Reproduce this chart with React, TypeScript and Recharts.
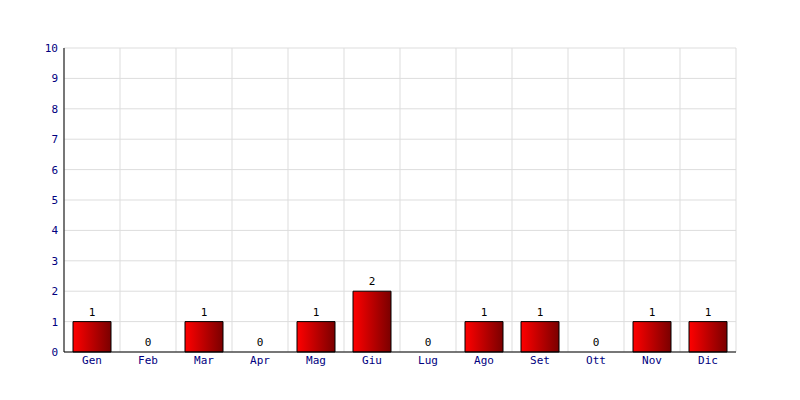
import React from 'react';
import { ComposedChart, Bar, Line, XAxis, YAxis, CartesianGrid } from 'recharts';

const MONTHS = ['Gen', 'Feb', 'Mar', 'Apr', 'Mag', 'Giu', 'Lug', 'Ago', 'Set', 'Ott', 'Nov', 'Dic'];
const COUNTS = [1, 0, 1, 0, 1, 2, 0, 1, 1, 0, 1, 1];
const Y_TICKS = [0, 1, 2, 3, 4, 5, 6, 7, 8, 9, 10];

const data = MONTHS.map((m, i) => ({ month: m, value: COUNTS[i] }));

const FONT = '"DejaVu Sans Mono", monospace';

// vertical grid lines sit between categories, not on them
const boundaryLines = ({ offset }: any) => {
  const step = offset.width / MONTHS.length;
  return Array.from({ length: MONTHS.length + 1 }, (_, i) => offset.left + i * step);
};

// labels come from an invisible line so zero values get one too
const ValueLabel = (props: any) => {
  const { x, y, value } = props;
  return (
    <text x={x} y={y - 6} textAnchor="middle" fill="#000" fontSize={11} fontFamily={FONT}>
      {String(value)}
    </text>
  );
};

export default function App() {
  return (
    <div style={{ position: 'absolute', left: 0, top: 0, width: 800, height: 400, background: '#fff' }}>
      <ComposedChart
        width={800}
        height={400}
        data={data}
        margin={{ top: 48, right: 64, bottom: 28, left: 0 }}
        barCategoryGap={0}
      >
        <defs>
          <linearGradient id="redGrad" x1="0" y1="0" x2="1" y2="0">
            <stop offset="0%" stopColor="#ff0000" />
            <stop offset="100%" stopColor="#7a0000" />
          </linearGradient>
        </defs>
        <CartesianGrid stroke="#dddddd" verticalCoordinatesGenerator={boundaryLines} />
        <XAxis
          dataKey="month"
          height={20}
          tickSize={0}
          tickMargin={4}
          axisLine={{ stroke: '#000' }}
          tick={{ fill: '#000080', fontSize: 11, fontFamily: FONT }}
        />
        <YAxis
          width={64}
          domain={[0, 10]}
          ticks={Y_TICKS}
          interval={0}
          tickSize={0}
          tickMargin={6}
          axisLine={{ stroke: '#000' }}
          tick={{ fill: '#000080', fontSize: 11, fontFamily: FONT }}
        />
        <Bar
          dataKey="value"
          barSize={38}
          fill="url(#redGrad)"
          stroke="#000"
          strokeWidth={1}
          isAnimationActive={false}
        />
        <Line
          dataKey="value"
          stroke="none"
          dot={false}
          activeDot={false}
          label={<ValueLabel />}
          isAnimationActive={false}
        />
      </ComposedChart>
    </div>
  );
}
